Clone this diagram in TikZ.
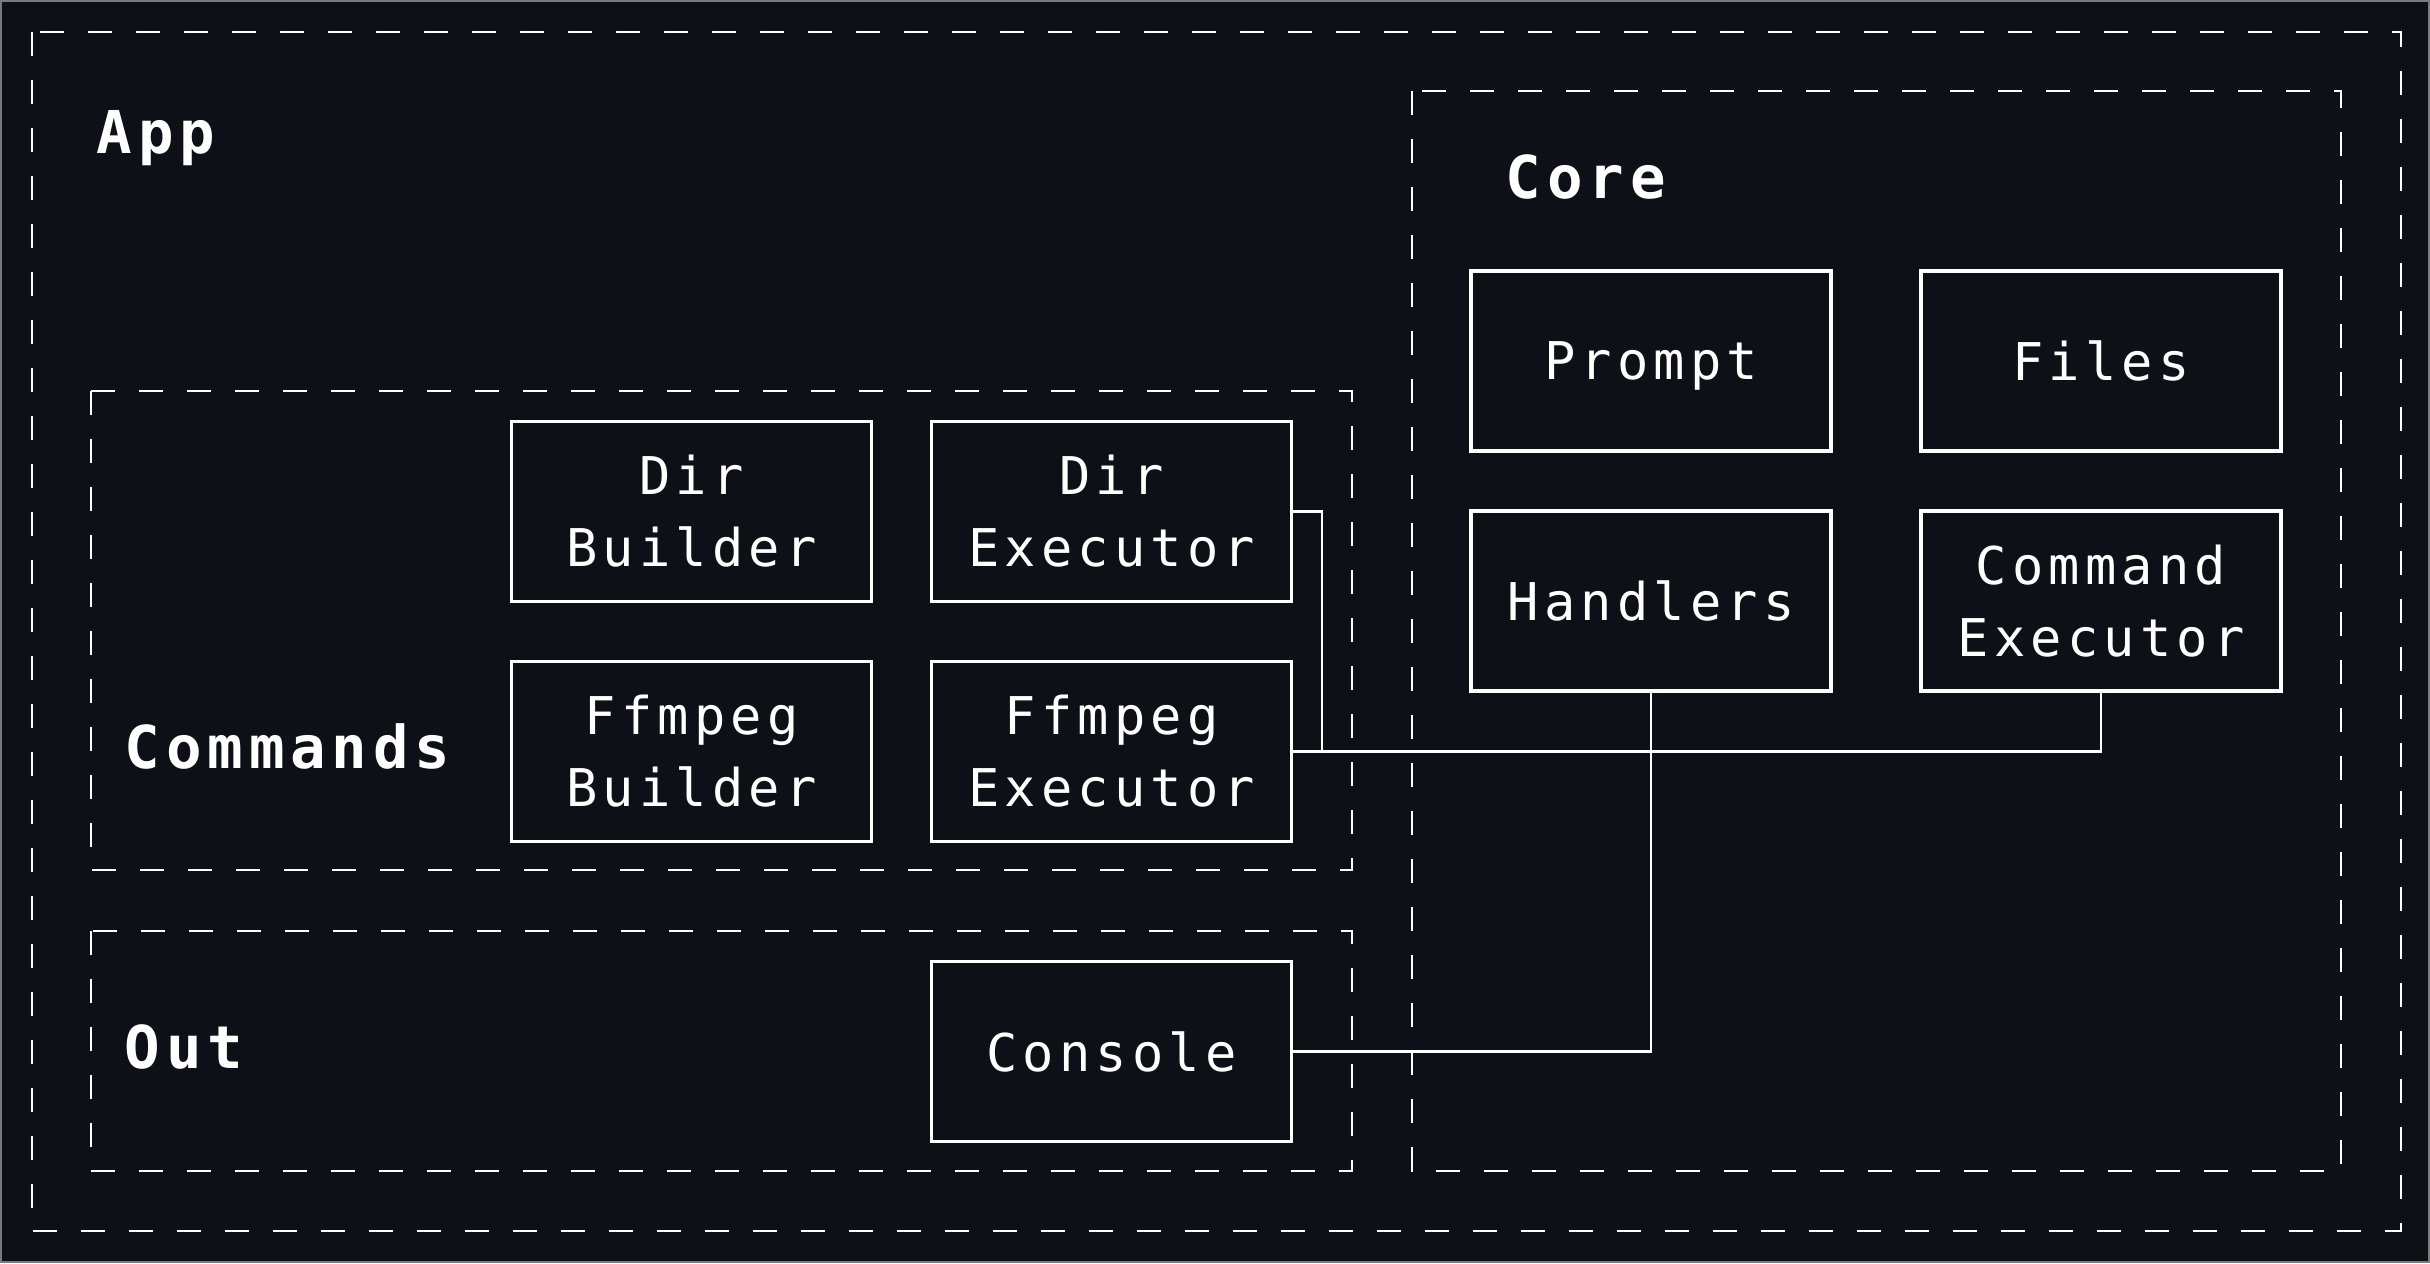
\documentclass[tikz,border=0pt]{standalone}
\usepackage{fontspec}
\setmonofont{DejaVu Sans Mono}[LetterSpace=10]
\usepackage{xcolor}
\usetikzlibrary{positioning}
\usetikzlibrary{calc}
\definecolor{bgdark}{HTML}{0D1017}
\definecolor{framegray}{HTML}{7A7A7A}

\begin{document}
\begin{tikzpicture}[node distance=0.6cm, white,
                    box/.style={rectangle,draw,line width=1.1pt,minimum width=3.6cm,minimum height=1.8cm,
                                inner sep=0pt,outer sep=0pt,align=center,
                                font=\ttfamily\fontsize{14.8pt}{20.5pt}\selectfont},
                    group/.style={dash pattern=on 0.24cm off 0.24cm,line width=0.8pt},
                    title/.style={anchor=base west,inner sep=0pt,font=\ttfamily\bfseries\fontsize{16.8pt}{20pt}\selectfont},
                    wire/.style={line width=0.8pt},
                    hv/.style={to path={-| (\tikztotarget)}},
                    vh/.style={to path={|- (\tikztotarget)}}]
\useasboundingbox (0,0) rectangle (24.30,-12.63);
\fill[bgdark] (0,0) rectangle (24.30,-12.63);
\draw[framegray,line width=0.5pt] (0.01,-0.01) rectangle (24.29,-12.62);

% groups
\draw[group] (0.32,-0.32) rectangle (24.01,-12.31);
\draw[group] (14.12,-0.91) rectangle (23.41,-11.71);
\draw[group] (0.91,-3.91) rectangle (13.52,-8.70);
\draw[group] (0.91,-9.31) rectangle (13.52,-11.71);

\node[title] (app) at (0.96,-1.53) {App};
\node[title] (core) at (15.05,-1.98) {Core};
\node[title] (cmds) at (1.24,-7.68) {Commands};
\node[title] (out) at (1.24,-10.68) {Out};

% commands and out
\node[box] (dirb) at (6.915,-5.115) {Dir\\Builder};
\node[box] (dire) [right=of dirb] {Dir\\Executor};
\node[box] (ffmb) [below=of dirb] {Ffmpeg\\Builder};
\node[box] (ffme) [right=of ffmb] {Ffmpeg\\Executor};
\node[box] (cons) [below=1.2cm of ffme] {Console};

% core
\node[box,text depth=0pt] (prom) at (16.51,-3.61) {Prompt};
\node[box] (file) [right=0.9cm of prom] {Files};
\node[box] (hand) [below=of prom] {Handlers};
\node[box] (cmde) [right=0.9cm of hand] {Command\\Executor};

\coordinate (join) at ($(ffme.east)+(0.305,0)$);

\path[wire]
  (dire.east) edge[hv] (join)
  (ffme.east) edge[hv] (cmde.south)
  (hand.south) edge[vh] (cons.east);
\end{tikzpicture}
\end{document}
